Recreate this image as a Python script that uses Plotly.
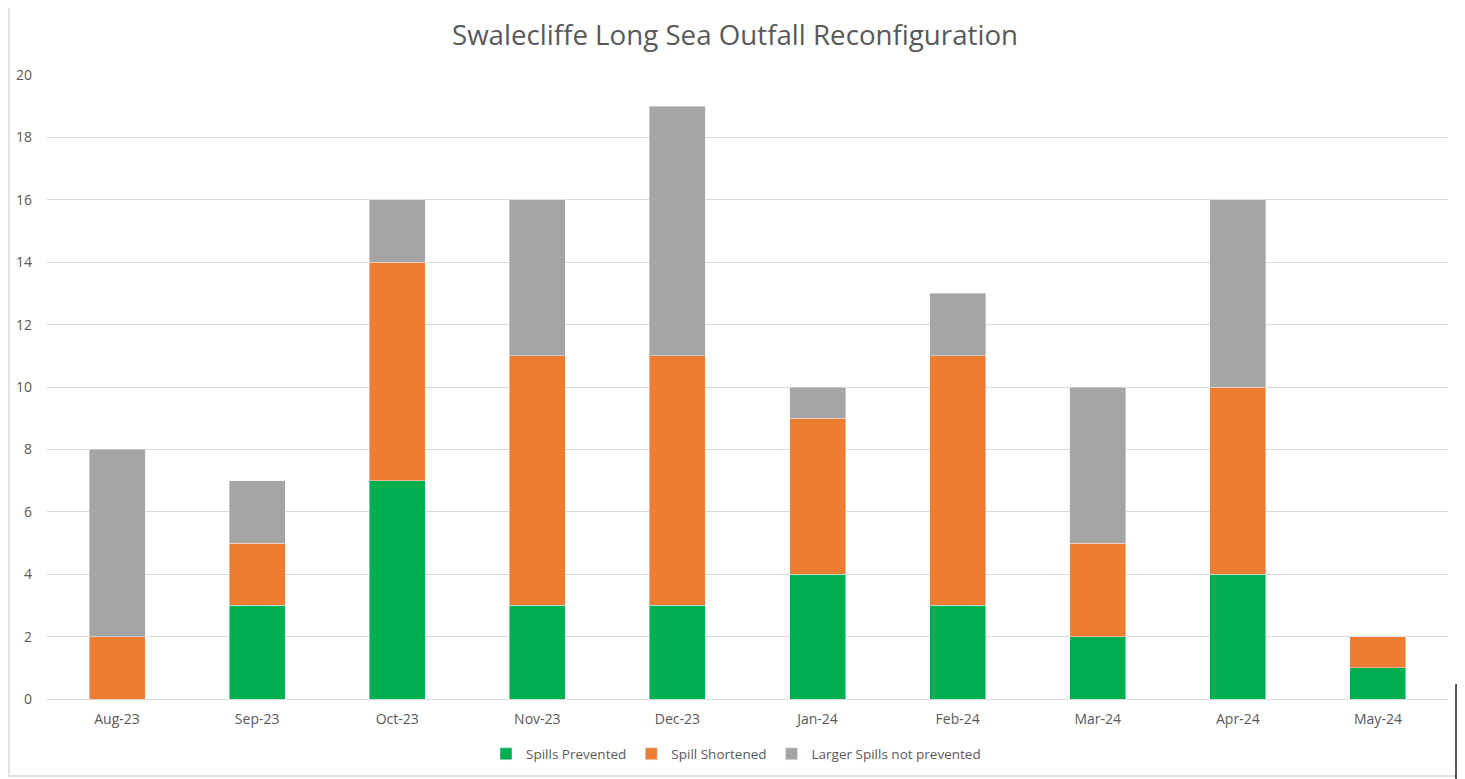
import plotly.graph_objects as go

months = ["Aug-23", "Sep-23", "Oct-23", "Nov-23", "Dec-23", "Jan-24", "Feb-24", "Mar-24", "Apr-24", "May-24"]
spills_prevented = [0, 3, 7, 3, 3, 4, 3, 2, 4, 1]
spill_shortened = [2, 2, 7, 8, 8, 5, 8, 3, 6, 1]
larger_not_prevented = [6, 2, 2, 5, 8, 1, 2, 5, 6, 0]
y_ticks = [0, 2, 4, 6, 8, 10, 12, 14, 16, 18, 20]

# page offset (browser body margin)
OX, OY = 8, 8
W, H = 1465, 779
# target screen positions of plot area
sx0, sx1, sy0, sy1 = 47, 1448, 75, 699
L = sx0 - OX
T = sy0 - OY
R = W - (sx1 - OX)
B = H - (sy1 - OY)
pw, ph = W - L - R, H - T - B

def px(x):
    return (x - OX - L) / pw

def py(y):
    return (sy1 - y) / ph

font_family = "Open Sans, Noto Sans, sans-serif"
text_color = "#595959"

fig = go.Figure()
fig.add_bar(x=months, y=spills_prevented, name="Spills Prevented", marker_color="#00B050")
fig.add_bar(x=months, y=spill_shortened, name="Spill Shortened", marker_color="#ED7D31")
fig.add_bar(x=months, y=larger_not_prevented, name="Larger Spills not prevented", marker_color="#A5A5A5")

fig.update_layout(
    width=W, height=H,
    barmode="stack", bargap=0.6,
    margin=dict(l=L, r=R, t=T, b=B, autoexpand=False),
    paper_bgcolor="white", plot_bgcolor="white",
    font=dict(family=font_family, color=text_color, size=14),
    title=dict(text="Swalecliffe Long Sea Outfall Reconfiguration", x=px(735), xanchor="center",
               xref="paper", y=1 - (35 - OY) / H, yanchor="middle",
               font=dict(size=27.7, color=text_color, family=font_family)),
    legend=dict(orientation="h", x=px(736), xanchor="center", y=py(754), yanchor="middle",
                font=dict(size=13.5, color=text_color), itemwidth=30, traceorder="normal"),
    showlegend=True,
)
fig.update_xaxes(showgrid=False, showline=False, ticks="", ticklabelstandoff=10, automargin=False,
                 tickfont=dict(size=14, color=text_color))
fig.update_yaxes(range=[0, 20], tickvals=y_ticks, gridcolor="#D9D9D9", gridwidth=1,
                 zeroline=True, zerolinecolor="#D9D9D9", zerolinewidth=1, automargin=False,
                 showline=False, ticks="", ticklabelstandoff=14,
                 tickfont=dict(size=14, color=text_color))

# outer chart border (visible right, left and bottom edges)
fig.add_shape(type="rect", xref="paper", yref="paper",
              x0=px(9), x1=px(1463), y0=py(776), y1=py(2),
              line=dict(color="#D9D9D9", width=1.5), layer="below")
# cropped object at bottom right
fig.add_shape(type="rect", xref="paper", yref="paper",
              x0=px(1456), x1=px(1475), y0=py(790), y1=py(685),
              line=dict(color="#222222", width=1.5), fillcolor="white", layer="above")

fig.write_html("out.html")
